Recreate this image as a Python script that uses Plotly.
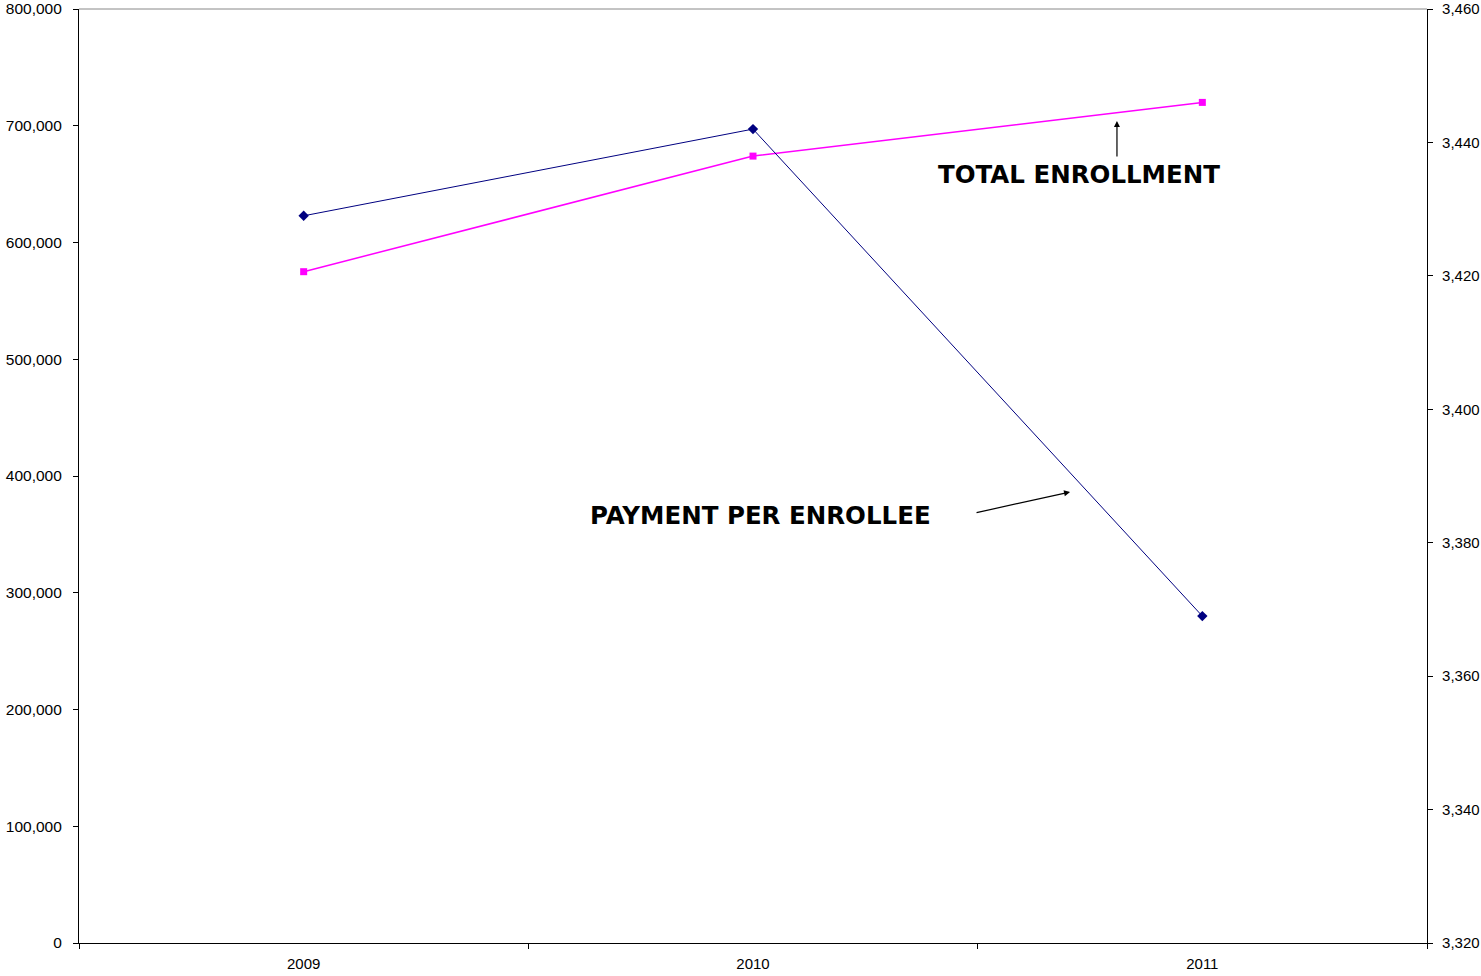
import plotly.graph_objects as go

years = ["2009", "2010", "2011"]
total_enrollment = [575000, 674000, 720000]
payment_per_enrollee = [3429, 3442, 3369]

FONT = "Liberation Sans, Arial, sans-serif"
BOLD_FONT = "DejaVu Sans, Liberation Sans, sans-serif"

fig = go.Figure()
fig.add_trace(go.Scatter(
    x=years, y=payment_per_enrollee, yaxis="y2", mode="lines+markers",
    line=dict(color="#000080", width=1),
    marker=dict(symbol="diamond", size=8, color="#000080"),
    name="Payment per enrollee", showlegend=False))
fig.add_trace(go.Scatter(
    x=years, y=total_enrollment, yaxis="y", mode="lines+markers",
    line=dict(color="#FF00FF", width=1.5),
    marker=dict(symbol="square", size=7, color="#FF00FF"),
    name="Total enrollment", showlegend=False))

fig.update_layout(
    width=1481, height=976,
    margin=dict(l=79, r=54, t=9, b=33, autoexpand=False),
    paper_bgcolor="white", plot_bgcolor="white",
    font=dict(family=FONT, color="black"),
    xaxis=dict(type="category", showgrid=False, showline=True, linecolor="black",
               linewidth=1.2, ticks="outside", tickson="boundaries", ticklen=5,
               tickcolor="black", tickfont=dict(size=15, family=FONT),
               ticklabelstandoff=7, automargin=False,
               zeroline=False, range=[-0.5, 2.5]),
    yaxis=dict(range=[0, 800000], dtick=100000, tickformat=",", showgrid=False,
               showline=True, linecolor="black", linewidth=1.2, ticks="outside",
               ticklen=5, tickcolor="black", tickfont=dict(size=15.5, family=FONT),
               ticklabelstandoff=8, automargin=False, zeroline=False),
    yaxis2=dict(range=[3320, 3460], dtick=20, tickformat=",", overlaying="y",
                side="right", showgrid=False, showline=True, linecolor="black",
                linewidth=1.2, ticks="outside", ticklen=5, tickcolor="black",
                tickfont=dict(size=15, family=FONT), ticklabelstandoff=6,
                automargin=False, zeroline=False),
)

# top border (gray)
fig.add_shape(type="line", xref="paper", yref="paper", x0=0, x1=1, y0=1, y1=1,
              line=dict(color="#888888", width=1))

fig.add_annotation(xref="paper", yref="paper", x=0.7418, y=0.8223,
                   xanchor="center", yanchor="middle",
                   text="<b>TOTAL ENROLLMENT</b>", showarrow=False,
                   font=dict(size=24.5, family=BOLD_FONT, color="black"))
fig.add_annotation(xref="paper", yref="paper", x=0.5052, y=0.4582,
                   xanchor="center", yanchor="middle",
                   text="<b>PAYMENT PER ENROLLEE</b>", showarrow=False,
                   font=dict(size=24.5, family=BOLD_FONT, color="black"))
fig.add_annotation(xref="paper", yref="paper", x=0.770, y=0.880, text="",
                   showarrow=True, arrowhead=2, arrowsize=1, arrowwidth=1.2,
                   arrowcolor="black", ax=0, ay=37)
fig.add_annotation(xref="paper", yref="paper", x=0.7352, y=0.4829, text="",
                   showarrow=True, arrowhead=2, arrowsize=1, arrowwidth=1.2,
                   arrowcolor="black", ax=-95, ay=21)

fig.write_html("out.html", config={"displayModeBar": False},
               post_script="document.body.style.margin='0';document.body.style.overflow='hidden';")
